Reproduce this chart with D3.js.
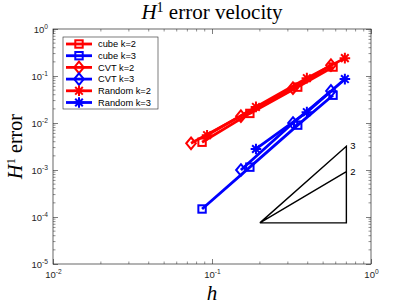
<!DOCTYPE html>
<html>
<head>
<meta charset="utf-8">
<script src="https://cdn.jsdelivr.net/npm/d3@7"></script>
<style>
  body { margin: 0; background: #fff; }
</style>
</head>
<body>
<div id="chart"></div>
<script>
const width = 410;
const height = 307;
const margin = { top: 29, right: 39, bottom: 43, left: 53 };
const axisColor = "#262626";

// mesh sizes h
const hCube = [0.0866, 0.173, 0.346, 0.577];
const hCvtK2 = [0.0738, 0.152, 0.323, 0.56];
const hCvtK3 = [0.152, 0.323, 0.56];
const hRandomK2 = [0.0931, 0.189, 0.395, 0.685];
const hRandomK3 = [0.189, 0.395, 0.685];

// H1 errors
const errCubeK2 = [3.9e-3, 1.6e-2, 5.8e-2, 0.155];
const errCubeK3 = [1.48e-4, 1.15e-3, 9.0e-3, 3.9e-2];
const errCvtK2 = [3.7e-3, 1.4e-2, 5.5e-2, 0.17];
const errCvtK3 = [1.0e-3, 1.0e-2, 4.8e-2];
const errRandomK2 = [5.5e-3, 2.2e-2, 9.0e-2, 0.24];
const errRandomK3 = [2.8e-3, 1.7e-2, 8.6e-2];

const seriesNames = ["cube k=2", "cube k=3", "CVT k=2", "CVT k=3", "Random k=2", "Random k=3"];
const seriesColors = ["#ff0000", "#0000ff", "#ff0000", "#0000ff", "#ff0000", "#0000ff"];
const seriesMarkers = ["square", "square", "diamond", "diamond", "star", "star"];
const seriesH = [hCube, hCube, hCvtK2, hCvtK3, hRandomK2, hRandomK3];
const seriesErr = [errCubeK2, errCubeK3, errCvtK2, errCvtK3, errRandomK2, errRandomK3];

// slope triangle (h, error) and its labels
const triangleH = [0.2, 0.7, 0.7, 0.2, 0.7];
const triangleErr = [7.5e-5, 7.5e-5, 3.2e-3, 7.5e-5, 9.19e-4];
const slopeLabels = ["3", "2"];
const slopeLabelErr = [3.2e-3, 9.19e-4];

const xMajor = [0.01, 0.1, 1];
const yMajor = [1e-5, 1e-4, 1e-3, 1e-2, 1e-1, 1];

const svg = d3
  .select("#chart")
  .append("svg")
  .attr("width", width)
  .attr("height", height)
  .style("font-family", "'Liberation Sans', Arial, sans-serif");

const x = d3
  .scaleLog()
  .domain([0.01, 1])
  .range([margin.left, width - margin.right]);
const y = d3
  .scaleLog()
  .domain([1e-5, 1])
  .range([height - margin.bottom, margin.top]);

const x0 = margin.left, x1 = width - margin.right;
const y0 = height - margin.bottom, y1 = margin.top;

// write 10^n labels with a superscript
function powerLabels(g) {
  g.selectAll(".tick text").each(function (d) {
    const t = d3.select(this).text(null);
    t.append("tspan").text("10");
    t.append("tspan")
      .attr("dy", "-0.55em")
      .attr("font-size", "0.7em")
      .text(Math.round(Math.log10(d)));
  });
}

function styleAxis(g) {
  g.select(".domain").remove();
  g.selectAll(".tick line").attr("stroke", axisColor).attr("stroke-width", 0.6);
  g.selectAll(".tick text").attr("fill", axisColor).attr("font-size", 9.5);
}

// Draw axes
svg.append("g")
  .attr("transform", `translate(0,${y0})`)
  .call(d3.axisBottom(x).tickValues(xMajor).tickSizeInner(-5).tickSizeOuter(0).tickPadding(7))
  .call(styleAxis)
  .call(powerLabels);
svg.append("g")
  .attr("transform", `translate(0,${y1})`)
  .call(d3.axisTop(x).tickValues(xMajor).tickSizeInner(-5).tickSizeOuter(0).tickFormat(""))
  .call(styleAxis);
svg.append("g")
  .attr("transform", `translate(${x0},0)`)
  .call(d3.axisLeft(y).tickValues(yMajor).tickSizeInner(-5).tickSizeOuter(0).tickPadding(5))
  .call(styleAxis)
  .call(powerLabels);
svg.append("g")
  .attr("transform", `translate(${x1},0)`)
  .call(d3.axisRight(y).tickValues(yMajor).tickSizeInner(-5).tickSizeOuter(0).tickFormat(""))
  .call(styleAxis);

// minor ticks
const xMinor = x.ticks().filter((v) => !xMajor.some((m) => Math.abs(m - v) < 1e-12));
const yMinor = y.ticks().filter((v) => !yMajor.some((m) => Math.abs(m - v) / m < 1e-9));
const minor = svg.append("g").attr("stroke", axisColor).attr("stroke-width", 0.5);
minor.selectAll(".xb").data(xMinor).join("line")
  .attr("x1", (d) => x(d)).attr("x2", (d) => x(d)).attr("y1", y0).attr("y2", y0 - 2.5);
minor.selectAll(".xt").data(xMinor).join("line")
  .attr("x1", (d) => x(d)).attr("x2", (d) => x(d)).attr("y1", y1).attr("y2", y1 + 2.5);
minor.selectAll(".yl").data(yMinor).join("line")
  .attr("y1", (d) => y(d)).attr("y2", (d) => y(d)).attr("x1", x0).attr("x2", x0 + 2.5);
minor.selectAll(".yr").data(yMinor).join("line")
  .attr("y1", (d) => y(d)).attr("y2", (d) => y(d)).attr("x1", x1).attr("x2", x1 - 2.5);

// box
svg.append("rect")
  .attr("x", x0).attr("y", y1)
  .attr("width", x1 - x0).attr("height", y0 - y1)
  .attr("fill", "none").attr("stroke", axisColor).attr("stroke-width", 0.7);

// markers
function drawMarker(g, type, color) {
  if (type === "square") {
    g.append("rect").attr("x", -3.7).attr("y", -3.7).attr("width", 7.4).attr("height", 7.4)
      .attr("fill", "none").attr("stroke", color).attr("stroke-width", 2);
  } else if (type === "diamond") {
    g.append("path").attr("d", "M0,-5.8L4.8,0L0,5.8L-4.8,0Z")
      .attr("fill", "none").attr("stroke", color).attr("stroke-width", 2);
  } else {
    g.append("path")
      .attr("d", "M-5.3,0H5.3M0,-5.3V5.3M-3.8,-3.8L3.8,3.8M-3.8,3.8L3.8,-3.8")
      .attr("stroke", color).attr("stroke-width", 2);
  }
}

// Draw series
const line = d3.line().x((d) => x(d[0])).y((d) => y(d[1]));
seriesNames.forEach((name, i) => {
  const pts = seriesH[i].map((h, j) => [h, seriesErr[i][j]]);
  const g = svg.append("g");
  g.append("path")
    .datum(pts)
    .attr("d", line)
    .attr("fill", "none")
    .attr("stroke", seriesColors[i])
    .attr("stroke-width", 2.8)
    .attr("stroke-linejoin", "round");
  pts.forEach((p) => {
    const m = g.append("g").attr("transform", `translate(${x(p[0])},${y(p[1])})`);
    drawMarker(m, seriesMarkers[i], seriesColors[i]);
  });
});

// slope triangle
svg.append("path")
  .datum(triangleH.map((h, j) => [h, triangleErr[j]]))
  .attr("d", line)
  .attr("fill", "none")
  .attr("stroke", "#000")
  .attr("stroke-width", 1.4);
svg.selectAll(".slope")
  .data(slopeLabels)
  .join("text")
  .attr("x", x(0.7) + 4)
  .attr("y", (d, i) => y(slopeLabelErr[i]) + 3)
  .attr("font-size", 9.5)
  .attr("fill", "#000")
  .text((d) => d);

// legend
const legend = svg.append("g").attr("transform", "translate(63,37)");
legend.append("rect")
  .attr("width", 95).attr("height", 72)
  .attr("fill", "#fff").attr("stroke", axisColor).attr("stroke-width", 0.6);
seriesNames.forEach((name, i) => {
  const ly = 7 + i * 11.7;
  legend.append("line")
    .attr("x1", 3).attr("x2", 29).attr("y1", ly).attr("y2", ly)
    .attr("stroke", seriesColors[i]).attr("stroke-width", 2.8);
  drawMarker(legend.append("g").attr("transform", `translate(16,${ly})`), seriesMarkers[i], seriesColors[i]);
  legend.append("text")
    .attr("x", 35).attr("y", ly + 3.3)
    .attr("font-size", 9.3)
    .attr("fill", "#000")
    .text(name);
});

// title and axis labels
const serif = "'Liberation Serif', 'Times New Roman', serif";
const title = svg.append("text")
  .attr("x", (x0 + x1) / 2).attr("y", 19)
  .attr("text-anchor", "middle")
  .attr("font-family", serif).attr("font-size", 21).attr("fill", "#000");
title.append("tspan").attr("font-style", "italic").text("H");
title.append("tspan").attr("dy", -7.5).attr("font-size", 14).text("1");
title.append("tspan").attr("dy", 7.5).text(" error velocity");

const ylab = svg.append("text")
  .attr("transform", `translate(22,${(y0 + y1) / 2}) rotate(-90)`)
  .attr("text-anchor", "middle")
  .attr("font-family", serif).attr("font-size", 20).attr("fill", "#000");
ylab.append("tspan").attr("font-style", "italic").text("H");
ylab.append("tspan").attr("dy", -7.5).attr("font-size", 13).text("1");
ylab.append("tspan").attr("dy", 7.5).text(" error");

svg.append("text")
  .attr("x", (x0 + x1) / 2).attr("y", 300)
  .attr("text-anchor", "middle")
  .attr("font-family", serif).attr("font-size", 21).attr("font-style", "italic")
  .attr("fill", "#000")
  .text("h");
</script>
</body>
</html>
